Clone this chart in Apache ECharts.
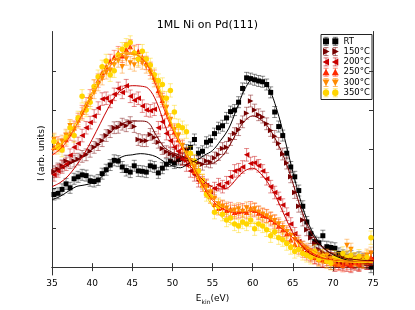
<!DOCTYPE html>
<html><head><meta charset="utf-8">
<script src="https://cdn.jsdelivr.net/npm/echarts@6/dist/echarts.min.js"></script>
<style>html,body{margin:0;padding:0;background:#fff}#c{width:415px;height:310px}</style>
</head><body><div id="c"></div>
<script>
const seriesNames = ['RT', '150°C', '200°C', '250°C', '300°C', '350°C'];
const colors = ['#000000', '#760000', '#c80000', '#ff2a00', '#ff8a00', '#ffd500'];
const energies = [35.25,35.75,36.25,36.75,37.25,37.75,38.25,38.75,39.25,39.75,
  40.25,40.75,41.25,41.75,42.25,42.75,43.25,43.75,44.25,44.75,
  45.25,45.75,46.25,46.75,47.25,47.75,48.25,48.75,49.25,49.75,
  50.25,50.75,51.25,51.75,52.25,52.75,53.25,53.75,54.25,54.75,
  55.25,55.75,56.25,56.75,57.25,57.75,58.25,58.75,59.25,59.75,
  60.25,60.75,61.25,61.75,62.25,62.75,63.25,63.75,64.25,64.75,
  65.25,65.75,66.25,66.75,67.25,67.75,68.25,68.75,69.25,69.75,
  70.25,70.75,71.25,71.75,72.25,72.75,73.25,73.75,74.25,74.75];
const rtData = [1.85,1.88,1.98,2.12,2.02,2.25,2.30,2.35,2.33,2.20,
  2.18,2.22,2.38,2.48,2.60,2.72,2.70,2.55,2.46,2.42,
  2.58,2.45,2.44,2.42,2.58,2.55,2.40,2.52,2.62,2.70,
  2.65,2.74,2.76,2.98,3.05,3.25,2.90,2.95,3.18,3.22,
  3.40,3.55,3.60,3.80,3.96,4.00,4.20,4.55,4.82,4.80,
  4.77,4.74,4.72,4.65,4.45,3.95,3.58,3.35,2.90,2.55,
  2.30,1.95,1.55,1.15,0.85,0.65,0.62,0.80,0.52,0.50,
  0.48,0.35,0.30,0.25,0.28,0.22,0.25,0.20,0.10,0.00];
const t150Data = [2.43,2.50,2.58,2.70,2.66,2.70,2.75,2.82,2.86,2.95,
  3.05,3.12,3.22,3.35,3.45,3.55,3.56,3.64,3.60,3.68,
  3.58,3.25,3.22,3.22,3.38,3.30,3.18,3.02,2.94,2.89,
  2.85,2.80,2.76,2.72,2.74,2.70,2.66,2.62,2.70,2.68,
  2.78,2.87,3.02,3.05,3.25,3.40,3.50,3.70,3.92,4.23,
  4.00,3.88,3.82,3.65,3.48,3.33,3.15,2.88,2.65,2.30,
  1.90,1.55,1.20,0.95,0.75,0.60,0.45,0.38,0.30,0.28,
  0.22,0.15,0.12,0.18,0.10,0.12,0.08,0.15,0.10,0.20];
const t200Data = [2.35,2.45,2.55,2.62,2.85,3.05,3.15,3.35,3.55,3.68,
  3.85,4.05,4.28,4.30,4.22,4.40,4.55,4.45,4.62,4.35,
  4.25,4.30,4.10,4.00,3.98,4.02,3.55,3.70,3.40,3.22,
  3.05,2.95,2.75,2.60,2.45,2.35,2.20,2.15,2.08,1.92,
  2.00,2.10,2.05,2.15,2.30,2.45,2.48,2.55,2.86,2.64,
  2.66,2.58,2.45,2.25,2.05,1.90,1.75,1.58,1.35,1.10,
  0.85,0.65,0.50,0.40,0.32,0.25,0.22,0.15,0.20,0.10,
  0.05,0.10,0.08,0.05,0.02,0.08,0.05,0.12,0.10,0.20];
const t250Data = [3.05,3.15,3.10,3.25,3.40,3.55,3.75,3.95,4.15,4.35,
  4.60,4.75,4.95,5.10,5.25,5.35,5.45,5.38,5.55,5.62,
  5.48,5.50,5.35,5.20,5.05,4.85,4.50,4.25,3.95,3.65,
  3.45,3.25,3.05,2.85,2.70,2.45,2.30,2.10,1.95,1.80,
  1.60,1.50,1.52,1.45,1.48,1.40,1.42,1.45,1.40,1.50,
  1.45,1.38,1.32,1.30,1.22,1.15,1.05,0.95,0.85,0.70,
  0.58,0.50,0.42,0.35,0.30,0.25,0.20,0.18,0.15,0.20,
  0.10,0.08,0.05,0.10,0.06,0.12,0.08,0.15,0.18,0.25];
const t300Data = [3.25,3.10,3.20,3.35,3.60,3.50,3.70,3.90,4.05,4.25,
  4.45,4.65,4.80,4.95,5.00,5.15,5.25,5.10,5.30,5.20,
  5.15,5.25,5.20,5.10,4.95,4.75,4.55,4.30,4.05,3.75,
  3.50,3.35,3.10,2.90,2.70,2.55,2.40,2.20,2.05,1.90,
  1.75,1.60,1.55,1.50,1.42,1.45,1.48,1.42,1.50,1.45,
  1.48,1.40,1.35,1.30,1.25,1.18,1.10,1.00,0.90,0.80,
  0.70,0.60,0.50,0.45,0.38,0.32,0.28,0.25,0.30,0.20,
  0.18,0.22,0.15,0.55,0.45,0.20,0.15,0.22,0.30,0.35];
const t350Data = [3.20,3.05,2.98,3.30,3.55,3.35,3.80,4.35,4.00,4.20,
  4.60,4.85,5.10,5.25,4.90,5.00,5.40,5.55,5.65,5.72,
  5.45,5.30,5.50,5.30,5.15,4.90,4.75,4.65,4.30,4.50,
  3.95,3.60,3.55,3.45,2.90,2.70,2.45,2.20,1.85,1.80,
  1.40,1.55,1.35,1.20,1.25,1.10,1.05,1.15,1.10,1.20,
  0.98,1.10,1.05,0.95,0.80,0.90,0.75,0.70,0.60,0.50,
  0.40,0.45,0.35,0.30,0.25,0.40,0.20,0.28,0.15,0.10,
  0.25,0.20,0.35,0.25,0.30,0.20,0.28,0.15,0.25,0.75];
const errors = [0.14, 0.15, 0.16, 0.17, 0.16, 0.17];

const fitEnergies = [35,36,37,38,39,40,41,42,43,44,45,46,47,48,49,50,51,52,53,54,55,
  56,57,58,59,60,61,62,63,64,65,66,67,68,69,70,71,72,73,74,75];
const rtFit = [1.72,1.80,1.93,2.05,2.09,2.14,2.26,2.51,2.72,2.83,2.86,2.89,2.87,2.81,2.68,2.58,2.53,2.64,2.72,2.85,2.97,
  3.22,3.52,4.02,4.52,4.77,4.73,4.56,4.02,3.27,2.43,1.68,1.09,0.71,0.46,0.32,0.23,0.17,0.13,0.10,0.08];
const t150Fit = [2.42,2.50,2.60,2.72,2.85,3.00,3.18,3.38,3.56,3.68,3.72,3.72,3.68,3.35,3.05,2.92,2.84,2.75,2.66,2.62,2.64,
  2.78,3.05,3.42,3.72,3.85,3.76,3.55,3.20,2.75,2.15,1.50,1.00,0.65,0.45,0.34,0.26,0.21,0.19,0.17,0.17];
const t200Fit = [2.05,2.15,2.32,2.58,2.88,3.25,3.65,4.05,4.38,4.56,4.62,4.61,4.55,4.22,3.65,3.15,2.85,2.62,2.40,2.18,2.04,
  1.99,2.03,2.25,2.45,2.52,2.38,2.12,1.75,1.30,0.88,0.57,0.37,0.26,0.20,0.17,0.15,0.14,0.13,0.13,0.13];
const t250Fit = [2.85,3.00,3.25,3.60,4.00,4.45,4.85,5.15,5.35,5.45,5.45,5.35,5.10,4.60,4.00,3.50,3.12,2.80,2.40,2.00,1.70,
  1.52,1.42,1.38,1.38,1.42,1.35,1.22,1.08,0.92,0.75,0.58,0.42,0.30,0.22,0.17,0.14,0.12,0.11,0.10,0.10];
const t300Fit = [2.95,3.10,3.30,3.60,3.95,4.35,4.72,5.05,5.28,5.40,5.42,5.35,5.12,4.68,4.08,3.55,3.15,2.82,2.45,2.05,1.75,
  1.58,1.48,1.42,1.42,1.44,1.38,1.26,1.12,0.98,0.82,0.65,0.50,0.37,0.28,0.22,0.18,0.16,0.15,0.14,0.14];
const t350Fit = [3.00,3.12,3.35,3.68,4.05,4.45,4.85,5.15,5.35,5.45,5.45,5.38,5.18,4.78,4.20,3.62,3.15,2.78,2.35,1.90,1.55,
  1.30,1.15,1.10,1.10,1.12,1.05,0.92,0.80,0.68,0.55,0.42,0.32,0.24,0.19,0.16,0.14,0.13,0.12,0.12,0.12];
const xTicks = [35, 40, 45, 50, 55, 60, 65, 70, 75];
const yTicks = [0, 1, 2, 3, 4, 5];

const allData = [rtData, t150Data, t200Data, t250Data, t300Data, t350Data];
const allFits = [rtFit, t150Fit, t200Fit, t250Fit, t300Fit, t350Fit];
const symbols = ['rect', 'triangle', 'triangle', 'triangle', 'triangle', 'circle'];
const rotations = [0, -90, 90, 0, 180, 0];
const sizes = [5, 5.5, 5.5, 5.5, 5.5, 5.5];

function fade(hex, a) {
  const r = parseInt(hex.slice(1,3),16), g = parseInt(hex.slice(3,5),16), b = parseInt(hex.slice(5,7),16);
  return 'rgba(' + r + ',' + g + ',' + b + ',' + a + ')';
}

const series = [];
allData.forEach((vals, k) => {
  const err = errors[k];
  series.push({
    type: 'custom', name: seriesNames[k] + ' err', clip: true, silent: true,
    data: energies.map((e, i) => [e, vals[i], err]),
    encode: { x: 0, y: 1 },
    z: 2 + k * 3,
    renderItem: function (params, api) {
      const x = api.value(0), y = api.value(1), e = api.value(2);
      const p1 = api.coord([x, y + e]), p2 = api.coord([x, y - e]);
      const st = { stroke: fade(colors[k], 0.45), lineWidth: 1 };
      return { type: 'group', children: [
        { type: 'line', shape: { x1: p1[0], y1: p1[1], x2: p2[0], y2: p2[1] }, style: st },
        { type: 'line', shape: { x1: p1[0] - 2.5, y1: p1[1], x2: p1[0] + 2.5, y2: p1[1] }, style: st },
        { type: 'line', shape: { x1: p2[0] - 2.5, y1: p2[1], x2: p2[0] + 2.5, y2: p2[1] }, style: st }
      ] };
    }
  });
  series.push({
    type: 'scatter', name: seriesNames[k], symbol: symbols[k], symbolRotate: rotations[k],
    symbolSize: sizes[k], z: 3 + k * 3, silent: true,
    itemStyle: { color: colors[k], opacity: 1 },
    data: energies.map((e, i) => [e, vals[i]])
  });
});
allFits.forEach((vals, k) => {
  series.push({
    type: 'line', name: seriesNames[k] + ' fit', smooth: 0.35, showSymbol: false, silent: true,
    z: 20 + k,
    lineStyle: { color: colors[k], width: 1 },
    data: fitEnergies.map((e, i) => [e, vals[i]])
  });
});

const legendChildren = [{ type: 'rect', shape: { x: 0, y: 0, width: 51, height: 65 },
  style: { fill: '#fff', stroke: '#222', lineWidth: 1 } }];
function markerShape(k, cx, cy) {
  const c = colors[k];
  if (k === 0) return { type: 'rect', shape: { x: cx - 3, y: cy - 3, width: 6, height: 6 }, style: { fill: c } };
  if (k === 5) return { type: 'circle', shape: { cx: cx, cy: cy, r: 3.2 }, style: { fill: c } };
  let pts;
  if (k === 1) pts = [[cx - 3, cy - 3.5], [cx + 3.5, cy], [cx - 3, cy + 3.5]];
  else if (k === 2) pts = [[cx + 3, cy - 3.5], [cx - 3.5, cy], [cx + 3, cy + 3.5]];
  else if (k === 3) pts = [[cx - 3.5, cy + 3], [cx, cy - 3.5], [cx + 3.5, cy + 3]];
  else pts = [[cx - 3.5, cy - 3], [cx, cy + 3.5], [cx + 3.5, cy - 3]];
  return { type: 'polygon', shape: { points: pts }, style: { fill: c } };
}
seriesNames.forEach((nm, k) => {
  const cy = 6.8 + k * 10.3;
  [5, 14.3].forEach(cx => {
    const st = { stroke: fade(colors[k], 0.55), lineWidth: 1 };
    legendChildren.push({ type: 'line', shape: { x1: cx, y1: cy - 4, x2: cx, y2: cy + 4 }, style: st });
    legendChildren.push({ type: 'line', shape: { x1: cx - 2.5, y1: cy - 4, x2: cx + 2.5, y2: cy - 4 }, style: st });
    legendChildren.push({ type: 'line', shape: { x1: cx - 2.5, y1: cy + 4, x2: cx + 2.5, y2: cy + 4 }, style: st });
    legendChildren.push(markerShape(k, cx, cy));
  });
  legendChildren.push({ type: 'text', style: { text: nm, x: 22.5, y: cy, fill: '#000',
    font: '8.5px "DejaVu Sans"', verticalAlign: 'middle', align: 'left' } });
});

const axisColor = '#333';
const chart = echarts.init(document.getElementById('c'), null, { renderer: 'canvas' });
chart.setOption({
  animation: false,
  backgroundColor: '#fff',
  textStyle: { fontFamily: 'DejaVu Sans' },
  title: { text: '1ML Ni on Pd(111)', left: 'center', top: 15,
    textStyle: { fontSize: 11, fontWeight: 'normal', color: '#000', fontFamily: 'DejaVu Sans' } },
  grid: { left: 52, right: 42, top: 31.5, bottom: 32 },
  xAxis: [{
    type: 'value', min: 35, max: 75, interval: 5, position: 'bottom',
    axisLine: { show: true, lineStyle: { color: axisColor, width: 1 } },
    axisTick: { show: true, inside: true, length: 4, lineStyle: { color: axisColor }, customValues: xTicks },
    axisLabel: { color: '#000', fontSize: 9, margin: 4, customValues: xTicks },
    splitLine: { show: false },
    name: '{a|E}{b|kin}{a|(eV)}', nameLocation: 'middle', nameGap: 16,
    nameTextStyle: { rich: {
      a: { fontSize: 9, color: '#000', fontFamily: 'DejaVu Sans', verticalAlign: 'bottom', lineHeight: 12 },
      b: { fontSize: 6, color: '#000', fontFamily: 'DejaVu Sans', verticalAlign: 'bottom', lineHeight: 8, padding: [0, 0, -2, 0] }
    } }
  }, {
    type: 'value', min: 35, max: 75, interval: 5, position: 'top',
    axisLine: { show: true, lineStyle: { color: axisColor, width: 1 } },
    axisTick: { show: true, inside: true, length: 4, lineStyle: { color: axisColor } },
    axisLabel: { show: false }, splitLine: { show: false }
  }],
  yAxis: [{
    type: 'value', min: -0.2, max: 6, position: 'left',
    axisLine: { show: true, lineStyle: { color: axisColor, width: 1 } },
    axisTick: { show: true, inside: true, length: 4, lineStyle: { color: axisColor }, customValues: yTicks },
    axisLabel: { show: false, customValues: yTicks },
    splitLine: { show: false },
    name: 'I (arb. units)', nameLocation: 'middle', nameGap: 6, nameRotate: 90,
    nameTextStyle: { fontSize: 9, color: '#000', fontFamily: 'DejaVu Sans' }
  }, {
    type: 'value', min: -0.2, max: 6, position: 'right',
    axisLine: { show: true, lineStyle: { color: axisColor, width: 1 } },
    axisTick: { show: true, inside: true, length: 4, lineStyle: { color: axisColor }, customValues: yTicks },
    axisLabel: { show: false, customValues: yTicks }, splitLine: { show: false }
  }],
  graphic: [{ type: 'group', left: 320.5, top: 34, z: 100, children: legendChildren }],
  series: series
});
</script></body></html>
